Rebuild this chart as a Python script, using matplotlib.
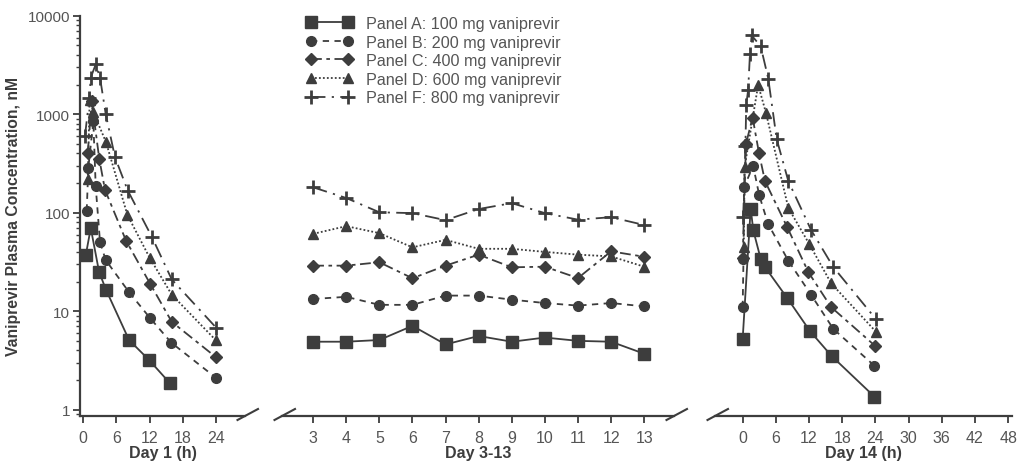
import matplotlib
matplotlib.use("Agg")
import matplotlib.pyplot as plt
from matplotlib.lines import Line2D
from matplotlib.ticker import FixedLocator, LogLocator, NullFormatter, FuncFormatter

# --------------------------------------------------
# Data
# --------------------------------------------------
labels = [
    "Panel A: 100 mg vaniprevir",
    "Panel B: 200 mg vaniprevir",
    "Panel C: 400 mg vaniprevir",
    "Panel D: 600 mg vaniprevir",
    "Panel F: 800 mg vaniprevir",
]

# Day 1, hours after dose
day1_t_a = [0.5, 1.4, 2.9, 4.15, 8.3, 11.9, 15.7]
day1_a = [37, 70, 25, 16.5, 5.1, 3.2, 1.85]
day1_t_b = [0.67, 0.96, 1.86, 2.29, 3.07, 4.1, 8.3, 12.1, 15.9, 24]
day1_b = [105, 285, 850, 185, 50, 33, 15.6, 8.5, 4.8, 2.1]
day1_t_c = [0.85, 1.57, 2.94, 3.97, 7.76, 12.1, 16.0, 24]
day1_c = [400, 1350, 350, 170, 52, 19, 7.8, 3.4]
day1_t_d = [0.85, 1.2, 1.86, 4.15, 8.0, 12.0, 16.0, 23.9]
day1_d = [220, 1400, 1050, 520, 95, 35, 14.7, 5.1]
day1_t_f = [0.36, 1.14, 1.39, 2.29, 3.07, 4.1, 5.77, 8.07, 12.4, 16.0, 24.0]
day1_f = [605, 1450, 2350, 3200, 2350, 1000, 365, 168, 57, 21, 6.8]

# Day 3-13 troughs
days = [3, 4, 5, 6, 7, 8, 9, 10, 11, 12, 13]
trough_a = [4.9, 4.9, 5.1, 7.1, 4.6, 5.6, 4.9, 5.4, 5.0, 4.9, 3.7]
trough_b = [13.3, 14.0, 11.6, 11.6, 14.4, 14.4, 13.1, 12.1, 11.4, 12.1, 11.2]
trough_c = [29, 29, 31.4, 21.6, 29, 37.5, 27.9, 28.3, 21.7, 40.5, 35.7]
trough_d = [61, 73, 62, 44.5, 53, 43, 43, 40, 37.5, 36, 28.3]
trough_f = [181, 141, 101, 99, 84, 109, 125, 99, 85, 90, 75]

# Day 14, hours after dose
day14_t_a = [0, 1.45, 1.93, 3.26, 4.05, 8.1, 12.2, 16.1, 23.8]
day14_a = [5.2, 110, 66, 34, 28, 13.5, 6.25, 3.5, 1.36]
day14_t_b = [0, 0.15, 0.25, 1.9, 3.0, 4.6, 8.25, 12.4, 16.4, 23.8]
day14_b = [11, 34, 181, 300, 150, 77, 32.6, 14.6, 6.6, 2.8]
day14_t_c = [0, 0.6, 1.8, 2.95, 4.03, 8.07, 11.9, 16.0, 23.9]
day14_c = [35, 500, 925, 404, 210, 71, 24.8, 11, 4.47]
day14_t_d = [0.2, 0.35, 2.8, 4.2, 8.25, 12.05, 16.0, 24.2]
day14_d = [44.6, 289, 1980, 1040, 112, 48, 19.2, 6.1]
day14_t_f = [0.1, 0.5, 0.65, 1.0, 1.32, 1.63, 3.26, 4.63, 6.15, 8.25, 12.36, 16.4, 24.1]
day14_f = [90, 480, 1250, 1780, 4100, 6300, 4900, 2300, 560, 210, 67, 28, 8.3]

ticks_day1 = [0, 6, 12, 18, 24]
ticks_day14 = [0, 6, 12, 18, 24, 30, 36, 42, 48]
y_ticks = [1, 10, 100, 1000, 10000]

# --------------------------------------------------
# Styles
# --------------------------------------------------
INK = "#3d3d3d"
GREY = "#555555"
styles = [
    dict(marker="s", ms=8, linestyle="-"),
    dict(marker="o", ms=7, linestyle=(0, (3.5, 3))),
    dict(marker="D", ms=6, linestyle=(0, (6, 2.5, 2, 2.5))),
    dict(marker="^", ms=7, linestyle=(0, (1, 1.2))),
    dict(marker="P", ms=0, linestyle=(0, (8, 3.5, 1.2, 3.5))),
]

plt.rcParams["font.family"] = ["Liberation Sans", "DejaVu Sans"]

W, H = 1017, 464
fig = plt.figure(figsize=(W / 100, H / 100), dpi=100)

bottom = (H - 417) / H
height = (417 - 16.7) / H
ax1 = fig.add_axes([80 / W, bottom, (245 - 80) / W, height])
ax2 = fig.add_axes([282 / W, bottom, (674 - 282) / W, height])
ax3 = fig.add_axes([715 / W, bottom, (1012 - 715) / W, height])


def draw(ax, series):
    for (x, y), st in zip(series, styles):
        if st["marker"] == "P":
            # plus markers drawn as thick "+"
            ax.plot(x, y, color=INK, lw=1.3, linestyle=st["linestyle"])
            ax.plot(x, y, color=INK, lw=0, marker="+", ms=10, mew=2.0)
        else:
            ax.plot(x, y, color=INK, lw=1.3, linestyle=st["linestyle"],
                    marker=st["marker"], ms=st["ms"], mec=INK, mfc=INK)


draw(ax1, [(day1_t_a, day1_a), (day1_t_b, day1_b), (day1_t_c, day1_c),
           (day1_t_d, day1_d), (day1_t_f, day1_f)])
draw(ax2, [(days, trough_a), (days, trough_b), (days, trough_c),
           (days, trough_d), (days, trough_f)])
draw(ax3, [(day14_t_a, day14_a), (day14_t_b, day14_b), (day14_t_c, day14_c),
           (day14_t_d, day14_d), (day14_t_f, day14_f)])

for ax in (ax1, ax2, ax3):
    ax.set_yscale("log")
    ax.set_ylim(0.863, 10000)
    for s in ("top", "right"):
        ax.spines[s].set_visible(False)
    ax.spines["bottom"].set_color(INK)
    ax.spines["bottom"].set_linewidth(1.6)
    ax.tick_params(axis="x", colors=INK, labelcolor=GREY, labelsize=11.5,
                   length=5, width=1.3, pad=5)

ax1.set_xlim(-0.54, 29.2)
ax2.set_xlim(2.06, 13.9)
ax3.set_xlim(-5.0, 48.7)
ax1.xaxis.set_major_locator(FixedLocator(ticks_day1))
ax2.xaxis.set_major_locator(FixedLocator(days))
ax3.xaxis.set_major_locator(FixedLocator(ticks_day14))

ax1.spines["left"].set_color(INK)
ax1.spines["left"].set_linewidth(1.6)
ax1.yaxis.set_major_locator(FixedLocator(y_ticks))
ax1.yaxis.set_major_formatter(FuncFormatter(lambda v, p: f"{v:g}"))
ax1.yaxis.set_minor_locator(LogLocator(base=10, subs=range(2, 10)))
ax1.yaxis.set_minor_formatter(NullFormatter())
ax1.tick_params(axis="y", which="major", colors=INK, labelcolor=GREY,
                labelsize=11, length=5, width=1.3, pad=2)
ax1.tick_params(axis="y", which="minor", colors=INK, length=3, width=1.0)
ax1.set_ylabel("Vaniprevir Plasma Concentration, nM", fontsize=11.3,
               fontweight="bold", color=INK, labelpad=5)

for ax in (ax2, ax3):
    ax.spines["left"].set_visible(False)
    ax.tick_params(axis="y", which="both", left=False, labelleft=False)

for ax, name in ((ax1, "Day 1 (h)"), (ax2, "Day 3-13"), (ax3, "Day 14 (h)")):
    ax.set_xlabel(name, fontsize=11.5, fontweight="bold", color=INK, labelpad=0)

# axis break marks at the cut ends
def break_mark(xe, ye):
    fig.add_artist(Line2D([xe - 7.5 / W, xe + 13 / W], [ye - 4 / H, ye + 7 / H],
                          transform=fig.transFigure, color=INK, lw=1.5))

p1, p2, p3 = ax1.get_position(), ax2.get_position(), ax3.get_position()
break_mark(p1.x1, p1.y0)
break_mark(p2.x0, p2.y0)
break_mark(p2.x1, p2.y0)
break_mark(p3.x0, p3.y0)

# legend
handles = []
for st in styles:
    if st["marker"] == "P":
        handles.append(Line2D([], [], color=INK, lw=1.3, linestyle=st["linestyle"],
                              marker="+", ms=10, mew=2.0))
    else:
        handles.append(Line2D([], [], color=INK, lw=1.3, linestyle=st["linestyle"],
                              marker=st["marker"], ms=st["ms"], mec=INK, mfc=INK))
leg = fig.legend(handles, labels, loc="upper left",
                 bbox_to_anchor=(306 / W, 1 - 17 / H), frameon=False,
                 fontsize=11.6, numpoints=2, handlelength=2.9,
                 handletextpad=0.85, labelspacing=0.22, borderpad=0,
                 borderaxespad=0)
for t in leg.get_texts():
    t.set_color(GREY)

fig.savefig("out.png", dpi=100)
